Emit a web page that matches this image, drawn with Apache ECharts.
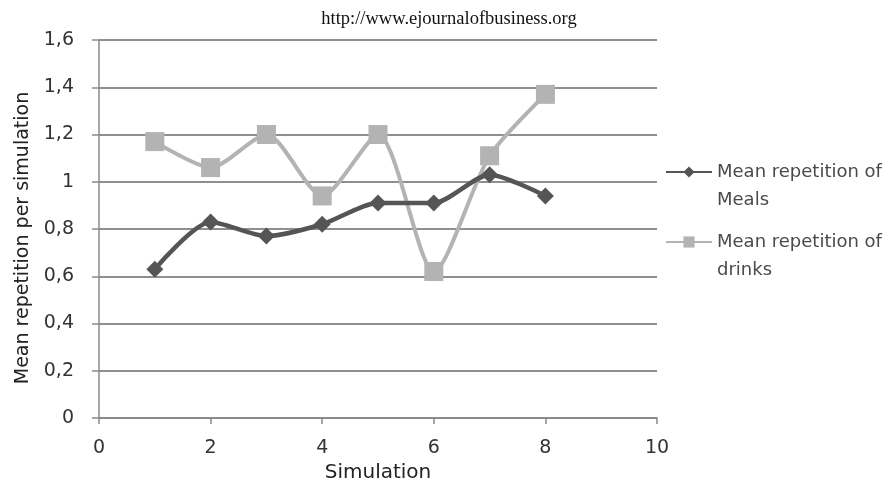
<!DOCTYPE html>
<html>
<head>
<meta charset="utf-8">
<script src="https://cdn.jsdelivr.net/npm/echarts@6/dist/echarts.min.js"></script>
<style>
  html, body { margin: 0; padding: 0; background: #ffffff; }
  #chart { width: 889px; height: 484px; }
</style>
</head>
<body>
<div id="chart"></div>
<script>
// Simulation runs and mean repetitions observed in each
const simulations = [1, 2, 3, 4, 5, 6, 7, 8];
const mealsMean  = [0.63, 0.83, 0.77, 0.82, 0.91, 0.91, 1.03, 0.94];
const drinksMean = [1.17, 1.06, 1.20, 0.94, 1.20, 0.62, 1.11, 1.37];
const seriesNames = ['Mean repetition of Meals', 'Mean repetition of drinks'];
// legend entries wrap after "of"
const legendLines = {
  'Mean repetition of Meals': ['Mean repetition of', 'Meals'],
  'Mean repetition of drinks': ['Mean repetition of', 'drinks']
};

const labelFont = 'Tahoma, "DejaVu Sans", sans-serif';

function pairs(xs, ys) {
  return xs.map((x, i) => [x, ys[i]]);
}

const chart = echarts.init(document.getElementById('chart'));
chart.setOption({
  backgroundColor: '#ffffff',
  animation: false,
  title: {
    text: 'http://www.ejournalofbusiness.org',
    left: 444,
    textAlign: 'center',
    top: 5,
    textStyle: {
      fontFamily: '"Liberation Serif", "Times New Roman", serif',
      fontSize: 18.5,
      fontWeight: 'normal',
      color: '#111111'
    }
  },
  grid: {
    left: 99, right: 232, top: 40, bottom: 66,
    containLabel: false,
    outerBoundsMode: 'none'
  },
  legend: {
    orient: 'vertical',
    left: 660,
    top: 125,
    itemWidth: 46,
    itemHeight: 14,
    itemGap: -14,
    // leading blank line keeps the icon level with the first text line
    formatter: name => '\n' + legendLines[name].join('\n'),
    textStyle: {
      fontFamily: labelFont,
      fontSize: 18,
      color: '#4a4a4a',
      lineHeight: 28
    },
    data: seriesNames
  },
  xAxis: {
    type: 'value',
    min: 0,
    max: 10,
    interval: 2,
    name: 'Simulation',
    nameLocation: 'middle',
    nameGap: 40,
    nameTextStyle: { fontFamily: labelFont, fontSize: 20, color: '#222222' },
    axisLine: { show: true, lineStyle: { color: '#8a8a8a', width: 1.5 } },
    axisTick: { show: true, length: 6, lineStyle: { color: '#8a8a8a', width: 1.5 } },
    axisLabel: { margin: 21, fontFamily: labelFont, fontSize: 19, color: '#333333' },
    splitLine: { show: false }
  },
  yAxis: {
    type: 'value',
    min: 0,
    max: 1.6,
    interval: 0.2,
    name: 'Mean repetition per simulation',
    nameLocation: 'middle',
    nameGap: 66,
    nameTextStyle: {
      fontFamily: labelFont,
      fontSize: 19,
      color: '#222222',
      padding: [0, 18, 0, 0]
    },
    axisLine: { show: true, lineStyle: { color: '#8a8a8a', width: 1.5 } },
    axisTick: { show: true, length: 7, lineStyle: { color: '#8a8a8a', width: 1.5 } },
    axisLabel: {
      margin: 25,
      fontFamily: labelFont,
      fontSize: 19,
      color: '#333333',
      formatter: v => String(Math.round(v * 10) / 10).replace('.', ',')
    },
    splitLine: { show: true, lineStyle: { color: '#8f8f8f', width: 1.8 } }
  },
  series: [
    {
      name: seriesNames[0],
      type: 'line',
      smooth: 0.25,
      data: pairs(simulations, mealsMean),
      symbol: 'diamond',
      symbolSize: 17,
      lineStyle: { color: '#555555', width: 4.5 },
      itemStyle: { color: '#555555' },
      z: 3
    },
    {
      name: seriesNames[1],
      type: 'line',
      smooth: 0.25,
      data: pairs(simulations, drinksMean),
      symbol: 'rect',
      symbolSize: 19,
      lineStyle: { color: '#b3b3b3', width: 4 },
      itemStyle: { color: '#b3b3b3' },
      z: 2
    }
  ]
});
</script>
</body>
</html>
